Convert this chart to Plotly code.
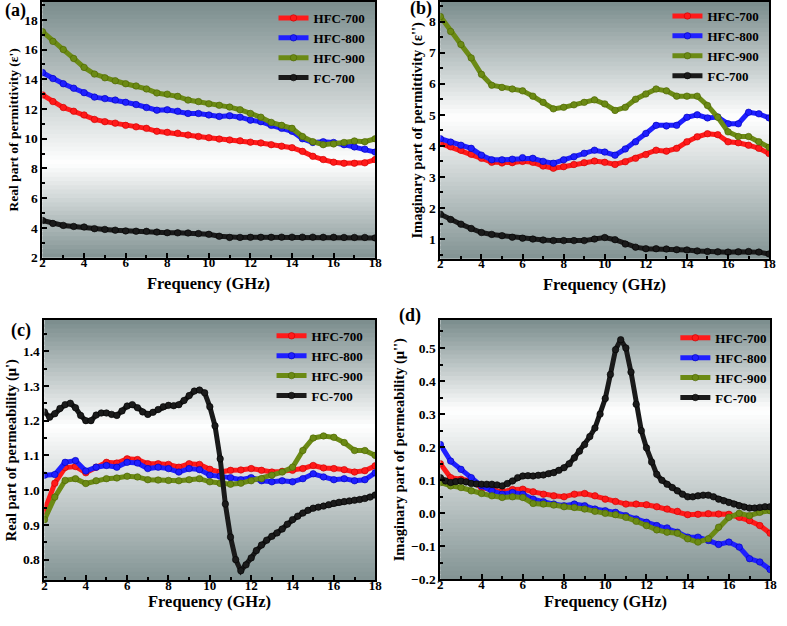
import plotly.graph_objects as go

# ---------------- data ----------------
freq = [2.0, 2.5, 3.0, 3.5, 4.0, 4.5, 5.0, 5.5, 6.0, 6.5, 7.0, 7.5, 8.0, 8.5, 9.0, 9.5, 10.0,
        10.5, 11.0, 11.5, 12.0, 12.5, 13.0, 13.5, 14.0, 14.5, 15.0, 15.5, 16.0, 16.5, 17.0, 17.5, 18.0]
freq_fine = [2.0, 2.25, 2.5, 2.75, 3.0, 3.25, 3.5, 3.75, 4.0, 4.25, 4.5, 4.75, 5.0, 5.25, 5.5, 5.75,
             6.0, 6.25, 6.5, 6.75, 7.0, 7.25, 7.5, 7.75, 8.0, 8.25, 8.5, 8.75, 9.0, 9.25, 9.5, 9.75,
             10.0, 10.25, 10.5, 10.75, 11.0, 11.25, 11.5, 11.75, 12.0, 12.25, 12.5, 12.75, 13.0, 13.25,
             13.5, 13.75, 14.0, 14.25, 14.5, 14.75, 15.0, 15.25, 15.5, 15.75, 16.0, 16.25, 16.5, 16.75,
             17.0, 17.25, 17.5, 17.75, 18.0]
series_names = ["HFC-700", "HFC-800", "HFC-900", "FC-700"]

# (a) real permittivity
eps_r_hfc700 = [12.95, 12.5, 12.1, 11.85, 11.6, 11.3, 11.15, 11.05, 10.9, 10.8, 10.7, 10.5, 10.43, 10.37, 10.25, 10.15, 10.07,
                9.98, 9.92, 9.86, 9.77, 9.72, 9.6, 9.5, 9.4, 9.15, 8.82, 8.6, 8.42, 8.35, 8.35, 8.38, 8.6]
eps_r_hfc800 = [14.45, 14.05, 13.7, 13.4, 13.1, 12.8, 12.7, 12.6, 12.45, 12.3, 12.1, 11.92, 11.95, 11.85, 11.7, 11.7, 11.6,
                11.5, 11.55, 11.45, 11.25, 11.15, 10.9, 10.7, 10.5, 10.0, 9.75, 9.8, 9.75, 9.6, 9.45, 9.3, 9.1]
eps_r_hfc900 = [17.2, 16.55, 16.0, 15.4, 14.8, 14.35, 14.1, 13.9, 13.7, 13.55, 13.35, 13.08, 13.0, 12.85, 12.6, 12.5, 12.35,
                12.25, 12.13, 11.95, 11.7, 11.45, 11.1, 10.9, 10.7, 10.15, 9.8, 9.6, 9.65, 9.75, 9.85, 9.8, 10.0]
eps_r_fc700 = [4.5, 4.3, 4.17, 4.1, 4.06, 3.95, 3.9, 3.85, 3.8, 3.78, 3.77, 3.72, 3.68, 3.67, 3.66, 3.62, 3.57,
               3.44, 3.36, 3.36, 3.37, 3.37, 3.37, 3.38, 3.38, 3.38, 3.38, 3.37, 3.37, 3.36, 3.36, 3.36, 3.33]

# (b) imaginary permittivity
eps_i_hfc700 = [4.08, 3.97, 3.86, 3.73, 3.6, 3.47, 3.45, 3.46, 3.5, 3.47, 3.35, 3.28, 3.33, 3.4, 3.46, 3.51, 3.47,
                3.4, 3.49, 3.6, 3.72, 3.86, 3.83, 3.92, 4.13, 4.29, 4.39, 4.36, 4.13, 4.1, 4.02, 3.92, 3.75]
eps_i_hfc800 = [4.23, 4.12, 4.02, 3.92, 3.7, 3.55, 3.55, 3.57, 3.62, 3.6, 3.5, 3.44, 3.55, 3.65, 3.76, 3.86, 3.8,
                3.7, 3.9, 4.13, 4.4, 4.66, 4.64, 4.66, 4.92, 5.0, 4.9, 4.93, 4.71, 4.71, 5.08, 5.03, 4.9]
eps_i_hfc900 = [8.16, 7.68, 7.26, 6.83, 6.3, 5.95, 5.88, 5.83, 5.77, 5.6, 5.4, 5.19, 5.24, 5.32, 5.4, 5.48, 5.35,
                5.14, 5.24, 5.5, 5.67, 5.83, 5.77, 5.6, 5.6, 5.6, 5.3, 4.92, 4.45, 4.3, 4.3, 4.13, 3.95]
eps_i_fc700 = [1.8, 1.63, 1.48, 1.34, 1.21, 1.15, 1.11, 1.06, 1.03, 1.0, 0.97, 0.95, 0.95, 0.95, 0.95, 1.0, 1.05,
               0.98, 0.84, 0.74, 0.69, 0.69, 0.68, 0.66, 0.65, 0.62, 0.6, 0.59, 0.58, 0.59, 0.6, 0.58, 0.52]

# (c) real permeability
mu_r_hfc700 = [0.94, 1.02, 1.065, 1.068, 1.05, 1.066, 1.08, 1.078, 1.09, 1.088, 1.076, 1.076, 1.074, 1.066, 1.076, 1.074, 1.06,
               1.052, 1.057, 1.058, 1.062, 1.057, 1.052, 1.054, 1.057, 1.062, 1.071, 1.064, 1.062, 1.059, 1.052, 1.056, 1.07]
mu_r_hfc800 = [1.043, 1.045, 1.08, 1.085, 1.055, 1.066, 1.071, 1.066, 1.08, 1.078, 1.062, 1.066, 1.062, 1.052, 1.062, 1.059, 1.043,
               1.04, 1.036, 1.03, 1.036, 1.027, 1.024, 1.027, 1.024, 1.033, 1.047, 1.038, 1.03, 1.033, 1.027, 1.03, 1.05]
mu_r_hfc900 = [0.915, 0.98, 1.028, 1.033, 1.019, 1.027, 1.033, 1.035, 1.04, 1.038, 1.03, 1.029, 1.028, 1.027, 1.03, 1.033, 1.024,
               1.019, 1.017, 1.02, 1.027, 1.033, 1.043, 1.052, 1.066, 1.114, 1.15, 1.156, 1.152, 1.137, 1.114, 1.114, 1.1]
mu_r_fc700 = [1.225, 1.21, 1.22, 1.235, 1.246, 1.25, 1.237, 1.215, 1.2, 1.2, 1.216, 1.222, 1.222, 1.218, 1.215, 1.228,
              1.242, 1.246, 1.237, 1.225, 1.218, 1.224, 1.232, 1.24, 1.244, 1.243, 1.246, 1.258, 1.272, 1.285, 1.288, 1.28,
              1.24, 1.185, 1.09, 0.96, 0.865, 0.8, 0.768, 0.785, 0.805, 0.826, 0.842, 0.856, 0.867, 0.877,
              0.888, 0.902, 0.915, 0.925, 0.934, 0.942, 0.948, 0.951, 0.954, 0.958, 0.962, 0.965, 0.967, 0.969,
              0.971, 0.973, 0.976, 0.98, 0.986]

# (d) imaginary permeability
mu_i_hfc700 = [0.15, 0.108, 0.103, 0.098, 0.078, 0.073, 0.065, 0.072, 0.073, 0.065, 0.058, 0.053, 0.05, 0.058, 0.06, 0.053, 0.043,
               0.036, 0.028, 0.028, 0.026, 0.02, 0.013, 0.006, -0.004, -0.003, -0.001, -0.002, -0.003, -0.012, -0.022, -0.037, -0.06]
mu_i_hfc800 = [0.208, 0.158, 0.133, 0.108, 0.083, 0.068, 0.058, 0.063, 0.058, 0.043, 0.035, 0.028, 0.023, 0.028, 0.023, 0.013, 0.008,
               0.003, -0.007, -0.017, -0.027, -0.037, -0.044, -0.057, -0.072, -0.072, -0.082, -0.094, -0.087, -0.102, -0.137, -0.147, -0.17]
mu_i_hfc900 = [0.093, 0.083, 0.078, 0.068, 0.06, 0.053, 0.048, 0.05, 0.048, 0.03, 0.028, 0.025, 0.02, 0.018, 0.013, 0.006, 0.0,
               -0.004, -0.012, -0.024, -0.037, -0.05, -0.057, -0.06, -0.077, -0.087, -0.077, -0.042, -0.012, 0.0, -0.007, 0.003, 0.008]
mu_i_fc700 = [0.108, 0.098, 0.093, 0.096, 0.098, 0.095, 0.09, 0.089, 0.088, 0.088, 0.088, 0.086, 0.083, 0.09, 0.098, 0.108,
              0.113, 0.114, 0.113, 0.115, 0.116, 0.12, 0.123, 0.13, 0.138, 0.15, 0.168, 0.188, 0.208, 0.232, 0.258, 0.3,
              0.347, 0.42, 0.495, 0.525, 0.5, 0.427, 0.33, 0.25, 0.198, 0.155, 0.118, 0.1, 0.088, 0.078,
              0.068, 0.058, 0.05, 0.05, 0.053, 0.055, 0.055, 0.05, 0.043, 0.038, 0.033, 0.028, 0.023, 0.019,
              0.016, 0.016, 0.018, 0.02, 0.02]

panel_labels = ["(a)", "(b)", "(c)", "(d)"]
y_titles = ["Real part of permittivity (ε')", "Imaginary part of permittivity (ε'')",
            "Real part of permeability (μ')", "Imaginary part of permeability (μ'')"]
x_title = "Frequency (GHz)"
x_ticks = [2, 4, 6, 8, 10, 12, 14, 16, 18]

# ---------------- styling ----------------
W, H = 787, 626
colors = ["#ff1a1a", "#1f1fff", "#6b8a14", "#1a1a1a"]
edge_colors = ["#c80000", "#0000b4", "#4a6200", "#000000"]
FONT = "Liberation Serif, Times New Roman, Times, serif"

# plot areas in pixels: (left, right, top, bottom)
areas = [(40, 377, 2, 261), (443, 776, 2, 262), (42, 377, 324, 588), (443, 777, 324, 587)]
y_ranges = [[2, 19.2], [0.37, 8.63], [0.74, 1.49], [-0.2, 0.585]]
y_dtick = [2, 1, 0.1, 0.1]
y_tick0 = [2, 1, 0.8, -0.2]
y_minor = [1, 0.5, 0.05, 0.05]
y_fmt = ["d", "d", ".1f", ".1f"]
y_title_size = [13.5, 14.5, 14.5, 14.5]
white_pos = [0.63, 0.45, 0.41, 0.35]
legend_xy = [(274, 3), (673, 1), (272, 325), (681, 327)]
label_xy = [(0, 11), (410, 9), (6, 335), (399, 320)]
xtitle_y = [287, 288, 609, 609]

panel_data = [
    [(freq, eps_r_hfc700), (freq, eps_r_hfc800), (freq, eps_r_hfc900), (freq, eps_r_fc700)],
    [(freq, eps_i_hfc700), (freq, eps_i_hfc800), (freq, eps_i_hfc900), (freq, eps_i_fc700)],
    [(freq, mu_r_hfc700), (freq, mu_r_hfc800), (freq, mu_r_hfc900), (freq_fine, mu_r_fc700)],
    [(freq, mu_i_hfc700), (freq, mu_i_hfc800), (freq, mu_i_hfc900), (freq_fine, mu_i_fc700)],
]

fig = go.Figure()
layout = dict(width=W, height=H, margin=dict(l=0, r=0, t=0, b=0),
              paper_bgcolor="white", plot_bgcolor="rgba(0,0,0,0)",
              font=dict(family=FONT, size=13, color="black", weight="bold"),
              showlegend=True)
shapes = []
annotations = []

top_c = (122, 140, 140)
bot_c = (130, 147, 147)
white = (255, 255, 255)


def mix(a, b, t):
    return "rgb(%d,%d,%d)" % tuple(round(a[i] + (b[i] - a[i]) * t) for i in range(3))


for p in range(4):
    sfx = "" if p == 0 else str(p + 1)
    l, r, t, b = areas[p]
    xd = [l / W, r / W]
    yd = [1 - b / H, 1 - t / H]
    layout["xaxis" + sfx] = dict(
        domain=xd, range=[2, 18], anchor="y" + sfx, tickvals=x_ticks,
        ticks="inside", ticklen=5, tickwidth=2, tickcolor="black", ticklabelstandoff=-8,
        minor=dict(ticks="inside", ticklen=3, tickwidth=2, dtick=1, tick0=2, tickcolor="black"),
        showline=True, mirror=True, linewidth=2, linecolor="black", showgrid=False, zeroline=False,
        tickfont=dict(family=FONT, size=13, weight="bold"),
    )
    layout["yaxis" + sfx] = dict(
        domain=yd, range=y_ranges[p], anchor="x" + sfx, dtick=y_dtick[p], tick0=y_tick0[p],
        tickformat=y_fmt[p],
        ticks="inside", ticklen=5, tickwidth=2, tickcolor="black",
        minor=dict(ticks="inside", ticklen=3, tickwidth=2, dtick=y_minor[p], tickcolor="black"),
        showline=True, mirror=True, linewidth=2, linecolor="black", showgrid=False, zeroline=False,
        tickfont=dict(family=FONT, size=13.5, weight="bold"),
        title=dict(text="<b>%s</b>" % y_titles[p], font=dict(family=FONT, size=y_title_size[p], weight="bold"),
                   standoff=3),
    )
    # x-axis title as centred text under the axis
    annotations.append(dict(text="<b>%s</b>" % x_title, x=(l + r) / 2 / W, y=1 - xtitle_y[p] / H,
                            xref="paper", yref="paper", xanchor="center", yanchor="middle", showarrow=False,
                            font=dict(family=FONT, size=16.5, weight="bold")))
    # gradient background bands (overlapping to avoid seams)
    N = 60
    for k in range(N):
        tt = (k + 0.5) / N  # from top
        w = white_pos[p]
        if tt < w:
            col = mix(top_c, white, tt / w)
        else:
            col = mix(white, bot_c, (tt - w) / (1 - w))
        shapes.append(dict(type="rect", xref="x%s domain" % sfx, yref="y%s domain" % sfx,
                           x0=0, x1=1, y0=max(0, 1 - (k + 1) / N - 0.012), y1=1 - k / N,
                           fillcolor=col, line=dict(width=0), layer="below"))
    leg = "legend" if p == 0 else "legend%d" % (p + 1)
    lx, ly = legend_xy[p]
    layout[leg] = dict(x=lx / W, y=1 - ly / H, xanchor="left", yanchor="top",
                       bgcolor="rgba(0,0,0,0)", borderwidth=0, itemwidth=30,
                       font=dict(family=FONT, size=13, weight="bold"), tracegroupgap=0)
    for s in range(4):
        xs, ys = panel_data[p][s]
        fig.add_trace(go.Scatter(
            x=xs, y=ys, mode="lines+markers", name="<b>%s</b>" % series_names[s],
            line=dict(color=colors[s], width=5),
            marker=dict(symbol="circle", size=6.5, color=colors[s], line=dict(color=edge_colors[s], width=0.6)),
            xaxis="x" + sfx, yaxis="y" + sfx, legend=leg, showlegend=True))
    ax, ay = label_xy[p]
    annotations.append(dict(text="<b>%s</b>" % panel_labels[p], x=ax / W, y=1 - ay / H, xref="paper", yref="paper",
                            xanchor="left", yanchor="middle", showarrow=False,
                            font=dict(family=FONT, size=18, weight="bold")))

layout["shapes"] = shapes
layout["annotations"] = annotations
fig.update_layout(**layout)
fig.write_html("out.html", config={"displayModeBar": False},
               post_script="document.body.style.margin='0';document.body.style.overflow='hidden';")
